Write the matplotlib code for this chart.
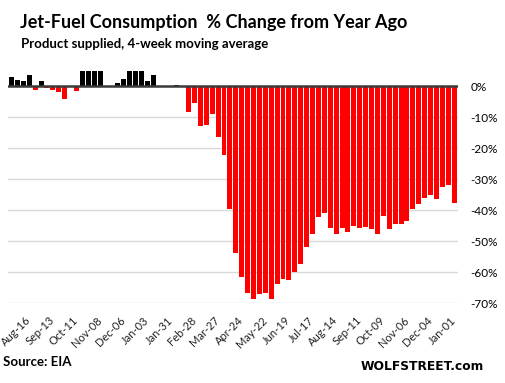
import matplotlib
matplotlib.use("Agg")
import matplotlib.pyplot as plt
import numpy as np

# weekly % change of jet-fuel product supplied vs year ago (Jul-26 2019 .. Jan-01 2021)
# bars above +5% run off the top of the chart in the original, so they are clipped
pct_change = [3.1, 2.2, 1.8, 3.8, -1.0, 1.8, -0.6, -1.0, -1.9, -3.9,
              0.0, -1.6, 6.0, 6.0, 6.0, 6.0, 0.0, 0.0, 1.1, 2.4,
              6.0, 6.0, 6.0, 1.7, 3.7, 0.0, 0.0, 0.0, 0.5, 0.0,
              -8.3, -5.4, -12.8, -12.5, -8.9, -16.4, -22.2, -39.6, -53.8, -61.5,
              -66.7, -68.6, -67.0, -66.7, -68.6, -63.7, -62.1, -62.4, -59.8, -57.2,
              -51.7, -47.5, -42.1, -40.8, -45.6, -47.5, -45.6, -46.9, -45.0, -45.6,
              -45.5, -45.9, -47.5, -41.7, -45.9, -44.3, -44.3, -43.3, -39.7, -37.8,
              -35.9, -35.0, -36.2, -32.6, -31.7, -37.5]

tick_labels = ['Aug-16', 'Sep-13', 'Oct-11', 'Nov-08', 'Dec-06', 'Jan-03', 'Jan-31',
               'Feb-28', 'Mar-27', 'Apr-24', 'May-22', 'Jun-19', 'Jul-17', 'Aug-14',
               'Sep-11', 'Oct-09', 'Nov-06', 'Dec-04', 'Jan-01']
first_labelled_week = 3
y_ticks = [0, -10, -20, -30, -40, -50, -60, -70]

W, H = 505, 383
fig = plt.figure(figsize=(W / 100, H / 100), dpi=100)
ax = fig.add_axes([8 / W, 1 - 303.3 / H, (457.7 - 8) / W, (303.3 - 71) / H])

x = np.arange(len(pct_change))
vals = np.array(pct_change)
colors = np.where(vals >= 0, '#000000', '#ff0000')
ax.bar(x, vals, width=0.84, color=colors, zorder=2)
ax.axhline(0, color='#3a3a3a', lw=1.8, zorder=3)

ax.set_xlim(-0.6, 75.6)
ax.set_ylim(-70, 5)
ax.set_yticks(y_ticks)
ax.set_yticklabels([f'{v}%' for v in y_ticks])
ax.yaxis.tick_right()
ax.grid(axis='y', color='#d9d9d9', lw=1.0, zorder=0)
ax.set_axisbelow(True)
for s in ax.spines.values():
    s.set_visible(False)

ax.set_xticks(x[first_labelled_week::4])
ax.set_xticklabels(tick_labels, rotation=45, ha='right', va='center',
                   rotation_mode='anchor', fontfamily='Lato', fontsize=8.0,
                   color='#222222')
ax.tick_params(axis='x', length=0, pad=11)
ax.tick_params(axis='y', length=0, pad=9, labelsize=8.5)
for t in ax.get_yticklabels():
    t.set_fontfamily('Lato')

fig.text(20 / W, 1 - 27.7 / H, 'Jet-Fuel Consumption  % Change from Year Ago',
         fontfamily='Lato', fontweight='bold', fontsize=13, va='baseline')
fig.text(20.7 / W, 1 - 47.7 / H, 'Product supplied, 4-week moving average',
         fontfamily='Lato', fontweight='bold', fontsize=9.5, va='baseline')
fig.text(3.3 / W, 1 - 366 / H, 'Source: EIA',
         fontfamily='Lato', fontweight='bold', fontsize=9.5, va='baseline')
fig.text(360.7 / W, 1 - 370 / H, 'WOLFSTREET.com',
         fontfamily='DejaVu Sans', fontweight='bold', fontsize=8.8, va='baseline')

fig.savefig('out.png', dpi=100)
